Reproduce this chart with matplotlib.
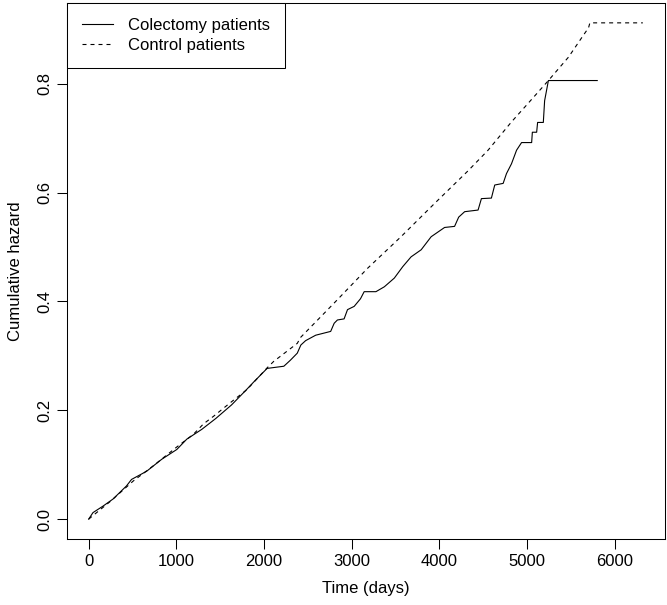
import matplotlib
matplotlib.use("Agg")
import matplotlib.pyplot as plt

plt.rcParams["font.family"] = ["Liberation Sans", "DejaVu Sans"]

# Colectomy patients
colectomy_t = [0, 49, 164, 278, 431, 489, 661, 833, 1005, 1119, 1290, 1450,
               1630, 1800, 1882, 2035, 2226, 2300, 2379, 2420, 2474, 2589,
               2760, 2800, 2837, 2913, 2952, 3028, 3100, 3142, 3276, 3372,
               3486, 3582, 3677, 3792, 3906, 4059, 4173, 4220, 4288, 4441,
               4479, 4593, 4631, 4727, 4765, 4822, 4880, 4937, 5052, 5060,
               5109, 5120, 5185, 5200, 5243, 5800]
colectomy_h = [0.000, 0.012, 0.024, 0.037, 0.061, 0.073, 0.088, 0.110, 0.128,
               0.147, 0.165, 0.185, 0.210, 0.238, 0.252, 0.277, 0.281, 0.292,
               0.305, 0.320, 0.328, 0.338, 0.345, 0.360, 0.366, 0.368, 0.385,
               0.391, 0.405, 0.418, 0.418, 0.427, 0.443, 0.464, 0.482, 0.495,
               0.519, 0.536, 0.538, 0.555, 0.565, 0.568, 0.589, 0.590, 0.614,
               0.617, 0.635, 0.653, 0.678, 0.692, 0.692, 0.711, 0.711, 0.729,
               0.729, 0.769, 0.806, 0.806]

# Control patients
control_t = [0, 250, 508, 737, 1000, 1195, 1309, 1424, 1600, 1805, 2035, 2111,
             2379, 2417, 2799, 3181, 3562, 3944, 4326, 4555, 4822, 5000, 5243,
             5472, 5624, 5701, 5716, 6320]
control_h = [0.000, 0.033, 0.070, 0.098, 0.132, 0.156, 0.175, 0.189, 0.212,
             0.238, 0.278, 0.290, 0.323, 0.334, 0.397, 0.461, 0.519, 0.580,
             0.640, 0.678, 0.730, 0.762, 0.806, 0.849, 0.885, 0.903, 0.912,
             0.912]

x_ticks = [0, 1000, 2000, 3000, 4000, 5000, 6000]
y_ticks = [0.0, 0.2, 0.4, 0.6, 0.8]
y_tick_labels = ["0.0", "0.2", "0.4", "0.6", "0.8"]

fig = plt.figure(figsize=(6.67, 6.05), dpi=100)
ax = fig.add_axes([66.5 / 667, (605 - 539) / 605, (665 - 66.5) / 667, (539 - 3) / 605])

ax.plot(colectomy_t, colectomy_h, color="black", linewidth=0.8,
        label="Colectomy patients")
ax.plot(control_t, control_h, color="black", linewidth=0.8,
        linestyle=(0, (3.6, 3.6)), label="Control patients")

# R style 4% padding of the data range
xmax = max(max(colectomy_t), max(control_t))
ymax = max(max(colectomy_h), max(control_h))
ax.set_xlim(-0.04 * xmax, 1.04 * xmax)
ax.set_ylim(-0.04 * ymax, 1.04 * ymax)

ax.set_xticks(x_ticks)
ax.set_yticks(y_ticks, labels=y_tick_labels)
for lab in ax.get_yticklabels():
    lab.set_rotation(90)
    lab.set_va("center")
ax.tick_params(direction="out", length=7, width=0.75, labelsize=12,
               pad=3.5, colors="black")
for sp in ax.spines.values():
    sp.set_linewidth(0.75)

ax.set_xlabel("Time (days)", fontsize=12, labelpad=9)
ax.set_ylabel("Cumulative hazard", fontsize=12, labelpad=10)

leg = ax.legend(loc="upper left", fontsize=12, frameon=True, fancybox=False,
                edgecolor="black", framealpha=1, borderaxespad=0,
                handlelength=1.9, handletextpad=0.9, borderpad=0.9,
                labelspacing=0.3)
leg.get_frame().set_linewidth(0.75)

fig.savefig("out.png", dpi=100)
